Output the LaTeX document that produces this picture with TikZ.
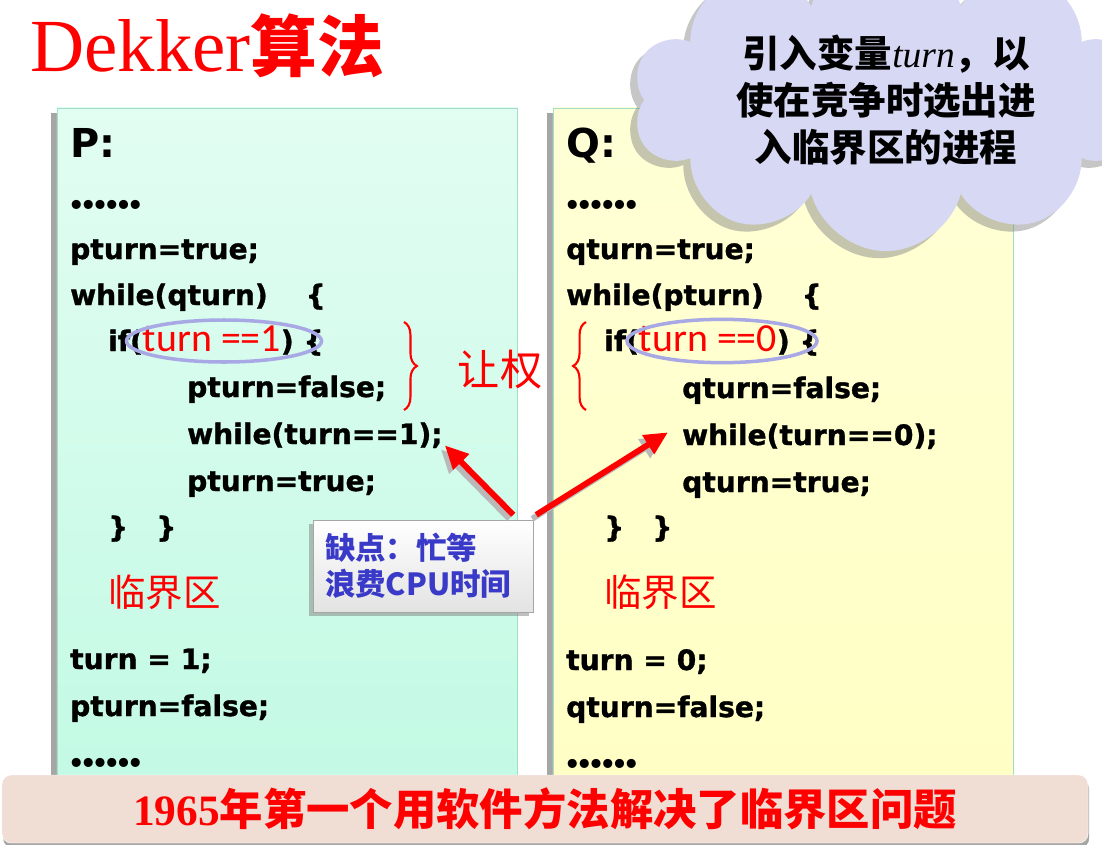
\documentclass[tikz,border=0pt]{standalone}
\usepackage{fontspec}
\setmainfont{Liberation Serif}
\newfontfamily\codefont{DejaVu Sans}
\newfontfamily\cjk{Noto Sans CJK SC}
\newfontfamily\calfont{Carlito}
\usetikzlibrary{shapes.geometric, shapes.symbols, arrows.meta, positioning, shadows, calc, decorations.pathreplacing}
\definecolor{ptop}{RGB}{226,253,242}
\definecolor{pbot}{RGB}{194,250,228}
\definecolor{qtop}{RGB}{255,255,214}
\definecolor{qbot}{RGB}{255,255,196}
\definecolor{panelline}{RGB}{160,222,200}
\definecolor{ovalline}{RGB}{168,168,228}
\definecolor{cloudfill}{RGB}{214,216,244}
\definecolor{bannerfill}{RGB}{240,221,212}
\definecolor{defectblue}{RGB}{58,58,200}
\tikzstyle{panel} = [draw=panelline, rectangle, minimum width=13.8cm, minimum height=20.76cm,
    drop shadow={shadow xshift=-5pt, shadow yshift=-4pt, fill=gray, opacity=.7}]
\tikzstyle{code} = [anchor=base west, inner sep=0pt,
    font=\codefont\bfseries\addfontfeatures{FakeBold=1.2}\fontsize{24}{28}\selectfont]
\tikzstyle{dots} = [anchor=west, inner sep=0pt,
    font=\codefont\bfseries\fontsize{22}{24}\selectfont]
\tikzstyle{hot} = [draw=ovalline, line width=3pt, ellipse, inner sep=0pt]
\tikzstyle{crit} = [anchor=west, inner sep=0pt, text=red, font=\cjk\fontsize{32}{36}\selectfont]
\tikzstyle{yield} = [decorate, decoration={brace, amplitude=11pt}, draw=red, line width=1.8pt]
\tikzstyle{busy} = [draw=red, line width=5pt, -{Triangle[length=20pt, width=18pt]}]
\tikzstyle{busyshade} = [draw=gray!55, line width=5pt, -{Triangle[length=20pt, width=18pt]}]
\newcommand{\hot}[1]{\textcolor{red}{\calfont\mdseries\fontsize{34}{36}\selectfont #1}}
\newcommand{\dotrow}{•\kern-4pt•\kern-4pt•\kern-4pt•\kern-4pt•\kern-4pt•}

\begin{document}
\begin{tikzpicture}[x=0.03cm, y=-0.03cm]
    \useasboundingbox (0,0) rectangle (1102,844);
    % title
    \node [anchor=base west, inner sep=0pt, text=red, font=\fontsize{64}{68}\selectfont] (title) at (30,72) {Dekker{\cjk\bfseries\fontsize{57}{60}\selectfont 算法}};
    % the two processes
    \node [panel, top color=ptop, bottom color=pbot] (pbox) at (287,454) {};
    \node [panel, top color=qtop, bottom color=qbot] (qbox) at (783,454) {};

    \node [anchor=base west, inner sep=0pt, font=\codefont\bfseries\fontsize{34}{40}\selectfont] (pname) at (70,157) {P:};
    \node [dots] (pdots1) at (68,207) {\dotrow};
    \node [code] (pset) at (70,259) {pturn=true;};
    \node [code] (pwait) at (70,305) {while(qturn)\quad\ \{};
    \node [code] (pif) at (108,351) {if(\hot{turn ==1}) \{};
    \node [code] (poff) at (187,397) {pturn=false;};
    \node [code] (pbusy) at (187,444) {while(turn==1);};
    \node [code] (pon) at (187,491) {pturn=true;};
    \node [code] (pend) at (108,537) {\}\quad\}};
    \node [crit] (pcs) at (108,592) {临界区};
    \node [code] (pgive) at (70,669) {turn = 1;};
    \node [code] (pout) at (70,716) {pturn=false;};
    \node [dots] (pdots2) at (68,765) {\dotrow};

    \node [anchor=base west, inner sep=0pt, font=\codefont\bfseries\fontsize{34}{40}\selectfont] (qname) at (566,157) {Q:};
    \node [dots] (qdots1) at (564,207) {\dotrow};
    \node [code] (qset) at (566,259) {qturn=true;};
    \node [code] (qwait) at (566,305) {while(pturn)\quad\ \{};
    \node [code] (qif) at (604,351) {if(\hot{turn ==0}) \{};
    \node [code] (qoff) at (682,398) {qturn=false;};
    \node [code] (qbusy) at (682,445) {while(turn==0);};
    \node [code] (qon) at (682,492) {qturn=true;};
    \node [code] (qend) at (604,537) {\}\quad\}};
    \node [crit] (qcs) at (604,592) {临界区};
    \node [code] (qgive) at (566,670) {turn = 0;};
    \node [code] (qout) at (566,717) {qturn=false;};
    \node [dots] (qdots2) at (564,766) {\dotrow};

    \node [hot, minimum width=5.85cm, minimum height=1.26cm] (poval) at (224,341) {};
    \node [hot, minimum width=5.7cm, minimum height=1.3cm] (qoval) at (722,341) {};

    \draw [yield] (404,322) -- (404,410);
    \draw [yield] (586,410) -- (586,322);
    \node [text=red, font=\cjk\fontsize{36}{40}\selectfont] (yield) at (500,370) {让权};

    % note
    \node [cloud, cloud puffs=10, aspect=2, fill=cloudfill, inner sep=0pt,
        minimum width=15.2cm, minimum height=7.0cm, align=center,
        font=\cjk\bfseries\fontsize{32}{40}\selectfont,
        drop shadow={shadow xshift=-6pt, shadow yshift=-6pt, fill=gray, opacity=.45}] (idea) at (886,100)
        {引入变量{\rmfamily\mdseries\itshape turn}，以\\使在竞争时选出进\\入临界区的进程};

    \node [draw=gray!70, top color=white, bottom color=gray!22, inner xsep=0.36cm,
        text width=5.88cm, minimum height=2.76cm, align=left, text=defectblue,
        font=\cjk\bfseries\fontsize{26}{31}\selectfont,
        drop shadow={shadow xshift=-3pt, shadow yshift=-3pt, fill=gray, opacity=.5}] (defect) at (423,566)
        {缺点：忙等\\浪费CPU时间};
    \coordinate (a1) at ($(defect.north east)+(-20,-5)$);
    \coordinate (a2) at ($(defect.north east)+(3,-5)$);
    \coordinate (t1) at ($(pbusy.east)+(2,10)$);
    \coordinate (t2) at ($(qbusy.west)+(-14,-4)$);
    \draw [busyshade] ($(a1)+(-4,4)$) -- ($(t1)+(-4,4)$);
    \draw [busyshade] ($(a2)+(-4,4)$) -- ($(t2)+(-4,4)$);
    \draw [busy] (a1) -- (t1);
    \draw [busy] (a2) -- (t2);

    \node [draw=white, fill=bannerfill, rounded corners=8pt, minimum width=32.58cm, minimum height=2.04cm,
        text=red, font=\fontsize{37}{40}\selectfont\bfseries,
        drop shadow={shadow xshift=1pt, shadow yshift=-4pt, fill=gray, opacity=.7}] (history) at (545,809)
        {1965{\cjk 年第一个用软件方法解决了临界区问题}};
\end{tikzpicture}
\end{document}
